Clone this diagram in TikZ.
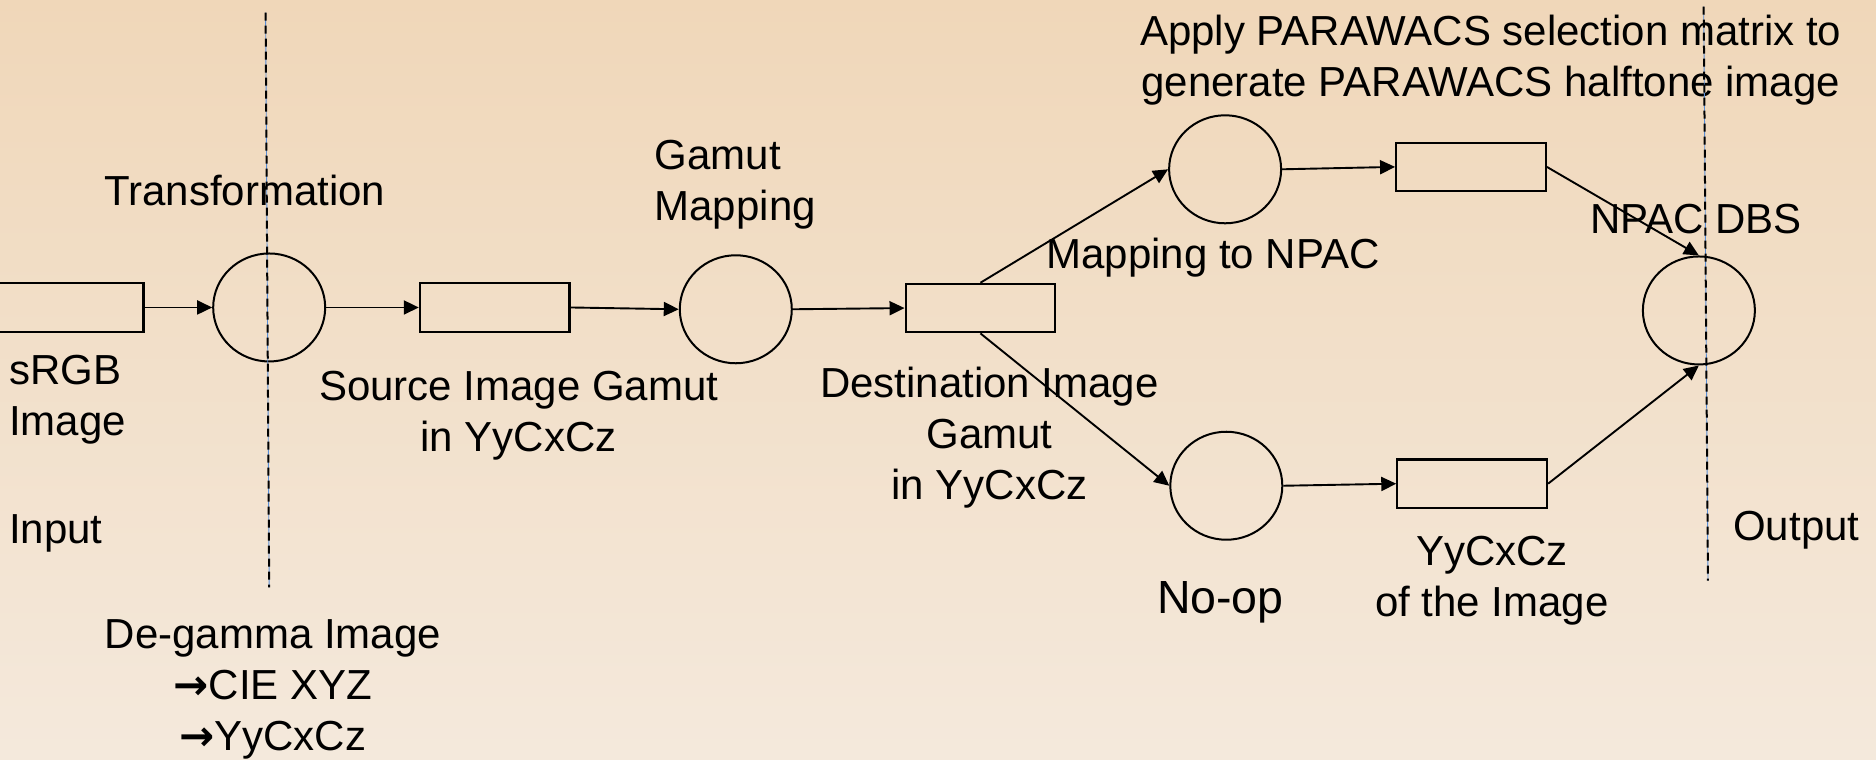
\documentclass[tikz,border=0pt]{standalone}
\usepackage{fontspec}
\setmainfont{Liberation Sans}
\newfontfamily\arrowfont{DejaVu Sans}
\usetikzlibrary{arrows.meta,shapes.geometric}
\definecolor{bgtop}{HTML}{F0D7B9}
\definecolor{bgbot}{HTML}{F4E9DC}
\definecolor{guideblue}{HTML}{5A8ED6}
\newcommand{\rarr}{{\arrowfont\bfseries →}}
\begin{document}
\begin{tikzpicture}[x=1.1964pt,y=-1.1964pt,
  box/.style={draw,line width=2.2pt,minimum width=149.6pt,minimum height=48.5pt,inner sep=0pt},
  proc/.style={draw,line width=2pt,ellipse,minimum width=112pt,minimum height=108pt,inner sep=0pt},
  flow/.style={line width=1.9pt,-{Triangle[length=15pt,width=14pt]}},
  lbl/.style={inner sep=0pt,font=\fontsize{42}{51}\selectfont},
  guideb/.style={line width=0.9pt,guideblue},
  guidek/.style={line width=2pt,black,dash pattern=on 8pt off 5pt}]
% background
\shade[top color=bgtop,bottom color=bgbot] (0pt,0pt) rectangle (1876pt,-760pt);
\useasboundingbox (0pt,0pt) rectangle (1876pt,-760pt);

% process nodes
\node[box]  (inbox) at (57.5,257)   {};
\node[proc] (c1)    at (225,257)    {};
\node[box]  (srcb)  at (413.5,257)  {};
\node[proc] (c2)    at (615,258.5)  {};
\node[box]  (dstb)  at (819.5,257.5){};
\node[proc] (c3)    at (1024,141.5) {};
\node[box]  (npb)   at (1229.5,139.5){};
\node[proc] (c4)    at (1420,259.5) {};
\node[proc] (c5)    at (1025,406)   {};
\node[box]  (yyb)   at (1230.5,404.3){};

% connectors
\draw[flow] (inbox.east) -- (c1.west);
\draw[flow] (c1.east) -- (srcb.west);
\draw[flow] (srcb.east) -- (c2.west);
\draw[flow] (c2.east) -- (dstb.west);
\draw[flow] (dstb.north) -- (c3.west);
\draw[flow] (dstb.south) -- (c5.west);
\draw[flow] (c3.east) -- (npb.west);
\draw[flow] (c5.east) -- (yyb.west);
\draw[flow] (npb.east) -- (c4.north);
\draw[flow] (yyb.east) -- (c4.south);

% labels (base anchor = baseline of the last line)
\node[lbl,anchor=base west] (ttrans) at (87,171.5) {Transformation};
\node[lbl,anchor=base west,align=left] (tsrgb) at (7.5,363.6) {sRGB\\Image};
\node[lbl,anchor=base west] (tinput) at (7.5,454) {Input};
\node[lbl,anchor=base,align=center] (tsrc) at (433.5,377.5) {Source Image Gamut\\in YyCxCz};
\node[lbl,anchor=base,align=center] (tdeg) at (228,627) {De-gamma Image\\\rarr CIE XYZ\\\rarr YyCxCz};
\node[lbl,anchor=base west,align=left] (tgm) at (547,184) {Gamut\\Mapping};
\node[lbl,anchor=base,align=center] (tdst) at (827,417.4) {Destination Image\\Gamut\\in YyCxCz};
\node[lbl,anchor=base west] (tmap) at (874.6,224.3) {Mapping to NPAC};
\node[lbl,anchor=base,align=center] (tapply) at (1246,80.8) {Apply PARAWACS selection matrix to\\generate PARAWACS halftone image};
\node[lbl,anchor=base west] (tnpac) at (1329,195) {NPAC DBS};
\node[lbl,anchor=base west] (tout) at (1448.6,452) {Output};
\node[lbl,anchor=base,font=\fontsize{46.5}{55}\selectfont] (tnoop) at (1020,512.6) {No-op};
\node[lbl,anchor=base,align=center] (tyy) at (1247,515.4) {YyCxCz\\of the Image};

% dashed guide lines
\coordinate (g1a) at (222,10.6);
\coordinate (g1b) at (225,491);
\coordinate (g2a) at (1424,5.6);
\coordinate (g2b) at (1427.6,485.4);
\draw[guideb] (g1a) -- (g1b);
\draw[guidek] (g1a) -- (g1b);
\draw[guideb] (g2a) -- (g2b);
\draw[guidek] (g2a) -- (g2b);
\end{tikzpicture}
\end{document}
